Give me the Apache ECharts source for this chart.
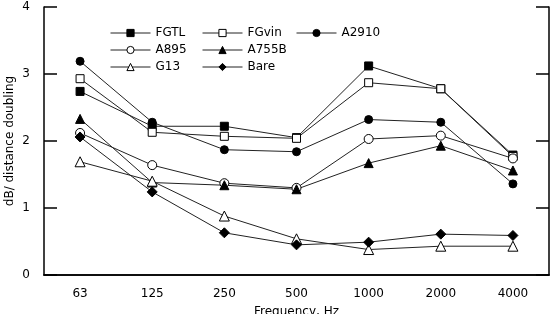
<!DOCTYPE html>
<html>
<head>
<meta charset="utf-8">
<script src="https://cdn.jsdelivr.net/npm/echarts@6/dist/echarts.min.js"></script>
<style>
  html, body { margin: 0; padding: 0; background: #fff; }
  #chart { width: 552px; height: 314px; }
</style>
</head>
<body>
<div id="chart"></div>
<script>
var freqs = ["63", "125", "250", "500", "1000", "2000", "4000"];
var yTicks = [0, 1, 2, 3, 4];

var fgtl = [2.74, 2.22, 2.22, 2.05, 3.12, 2.78, 1.79];
var fgvin = [2.93, 2.13, 2.07, 2.04, 2.87, 2.78, 1.77];
var a2910 = [3.19, 2.28, 1.87, 1.84, 2.32, 2.28, 1.36];
var a895 = [2.12, 1.64, 1.37, 1.30, 2.03, 2.08, 1.74];
var a755b = [2.33, 1.38, 1.34, 1.28, 1.67, 1.93, 1.56];
var g13 = [1.69, 1.40, 0.88, 0.54, 0.38, 0.43, 0.43];
var bare = [2.06, 1.24, 0.63, 0.45, 0.49, 0.61, 0.59];

var font = "DejaVu Sans";

// name, data, symbol, filled, size
var defs = [
  ["FGTL", fgtl, "rect", true, 8],
  ["FGvin", fgvin, "rect", false, 8],
  ["A2910", a2910, "circle", true, 8],
  ["A895", a895, "circle", false, 9],
  ["A755B", a755b, "triangle", true, 9],
  ["G13", g13, "triangle", false, 10],
  ["Bare", bare, "diamond", true, 10]
];

function makeSeries(d) {
  return {
    name: d[0],
    type: "line",
    data: d[1],
    symbol: d[2],
    symbolSize: d[4],
    showAllSymbol: true,
    lineStyle: { color: "#222", width: 1 },
    itemStyle: {
      color: d[3] ? "#000" : "#fff",
      borderColor: "#000",
      borderWidth: 1
    },
    emphasis: { disabled: true },
    animation: false
  };
}

function makeLegend(names, left) {
  return {
    orient: "vertical",
    left: left,
    top: 27,
    padding: 0,
    itemWidth: 40,
    itemHeight: 9,
    itemGap: 5,
    selectedMode: false,
    data: names,
    lineStyle: { width: 1 },
    itemStyle: { borderWidth: 1 },
    textStyle: { fontFamily: font, fontSize: 12, color: "#000" }
  };
}

var axisLine = { show: true, lineStyle: { color: "#000", width: 1.5 } };

var chart = echarts.init(document.getElementById("chart"));
chart.setOption({
  backgroundColor: "#fff",
  animation: false,
  grid: { left: 44, right: 3, top: 7, bottom: 39, outerBoundsMode: "none", containLabel: false },
  legend: [
    makeLegend(["FGTL", "A895", "G13"], 110),
    makeLegend(["FGvin", "A755B", "Bare"], 202),
    makeLegend(["A2910"], 296)
  ],
  xAxis: [
    {
      type: "category",
      data: freqs,
      position: "bottom",
      boundaryGap: true,
      axisLine: axisLine,
      axisTick: { alignWithLabel: true, inside: true, length: 9, lineStyle: { color: "#000", width: 1.5 } },
      axisLabel: { margin: 13, color: "#000", fontFamily: font, fontSize: 12 },
      name: "Frequency, Hz",
      nameLocation: "middle",
      nameGap: 31,
      nameMoveOverlap: false,
      nameTextStyle: { fontFamily: font, fontSize: 12, color: "#000" },
      splitLine: { show: false }
    },
    {
      type: "category",
      data: freqs,
      position: "top",
      boundaryGap: true,
      axisLine: axisLine,
      axisTick: { alignWithLabel: true, inside: true, length: 9, lineStyle: { color: "#000", width: 1.5 } },
      axisLabel: { show: false },
      splitLine: { show: false }
    }
  ],
  yAxis: [
    {
      type: "value",
      min: yTicks[0],
      max: yTicks[yTicks.length - 1],
      interval: 1,
      position: "left",
      axisLine: axisLine,
      axisTick: { show: true, inside: true, length: 13, lineStyle: { color: "#000", width: 1.5 } },
      axisLabel: { margin: 14, color: "#000", fontFamily: font, fontSize: 12 },
      splitLine: { show: false },
      name: "dB/ distance doubling",
      nameLocation: "middle",
      nameGap: 28,
      nameRotate: 90,
      nameMoveOverlap: false,
      nameTextStyle: { fontFamily: font, fontSize: 12, color: "#000" }
    },
    {
      type: "value",
      min: yTicks[0],
      max: yTicks[yTicks.length - 1],
      interval: 1,
      position: "right",
      axisLine: axisLine,
      axisTick: { show: true, inside: true, length: 13, lineStyle: { color: "#000", width: 1.5 } },
      axisLabel: { show: false },
      splitLine: { show: false }
    }
  ],
  series: defs.map(makeSeries)
});
</script>
</body>
</html>
